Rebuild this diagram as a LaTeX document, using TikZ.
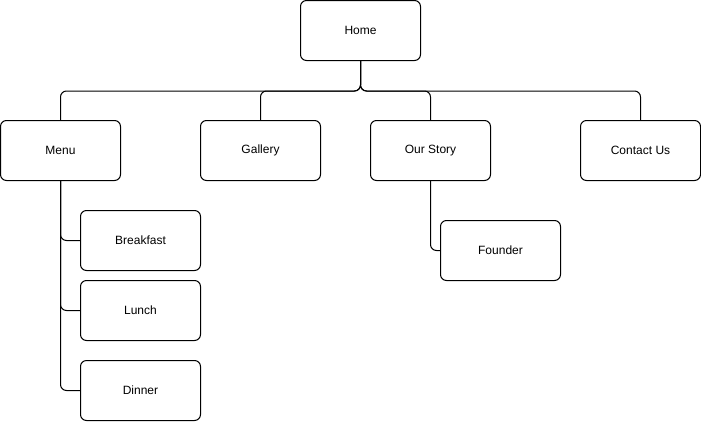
\documentclass[tikz,border=0pt]{standalone}
\usepackage{fontspec}
\setmainfont{Liberation Sans}
\begin{document}
\begin{tikzpicture}[x=1pt,y=-1pt,
  box/.style={draw=black,line width=1pt,rounded corners=6pt,minimum width=120pt,minimum height=60pt,inner sep=0pt,font=\fontsize{12}{14}\selectfont},
  link/.style={draw=black,line width=1pt,rounded corners=6pt}]
\useasboundingbox (0,0) rectangle (701,421);
\node[box] (home) at (360.5,30.5) {Home};
\node[box] (menu) at (60.5,150.5) {Menu};
\node[box] (gallery) at (260.5,150.5) {Gallery};
\node[box] (story) at (430.5,150.5) {Our Story};
\node[box] (contact) at (640.5,150.5) {Contact Us};
\node[box] (breakfast) at (140.5,240.5) {Breakfast};
\node[box] (lunch) at (140.5,310.5) {Lunch};
\node[box] (dinner) at (140.5,390.5) {Dinner};
\node[box] (founder) at (500.5,250.5) {Founder};
\draw[link] (home.south) -- ++(0,30) -| (menu.north);
\draw[link] (home.south) -- ++(0,30) -| (gallery.north);
\draw[link] (home.south) -- ++(0,30) -| (story.north);
\draw[link] (home.south) -- ++(0,30) -| (contact.north);
\draw[link] (menu.south) |- (breakfast.west);
\draw[link] (menu.south) |- (lunch.west);
\draw[link] (menu.south) |- (dinner.west);
\draw[link] (story.south) |- (founder.west);
\end{tikzpicture}
\end{document}
